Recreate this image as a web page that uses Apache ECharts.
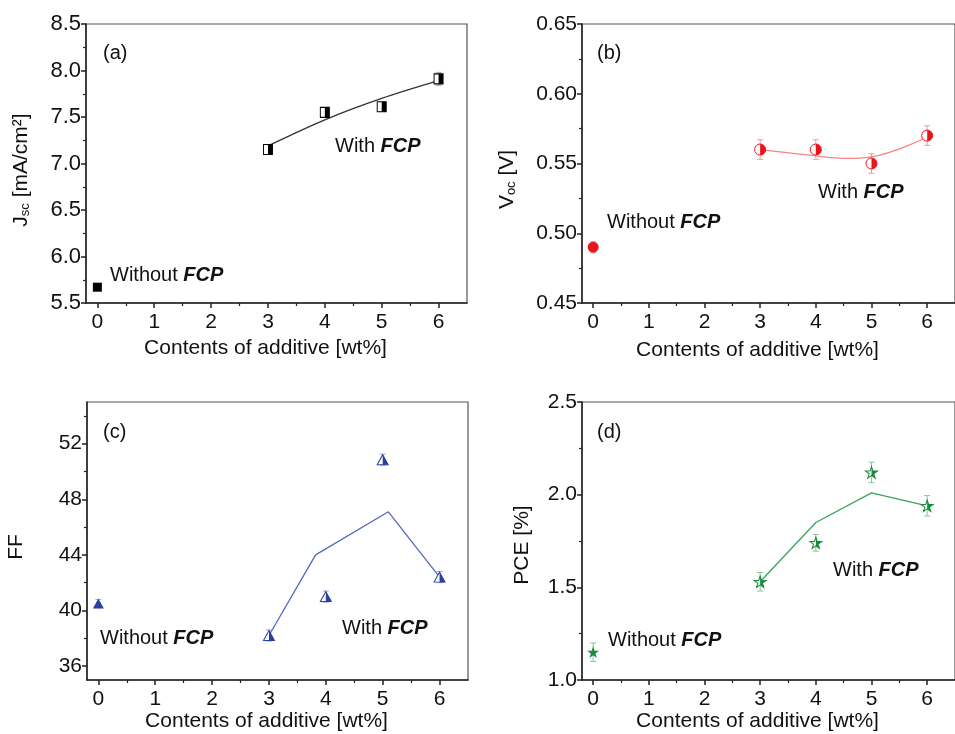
<!DOCTYPE html>
<html>
<head>
<meta charset="utf-8">
<title>FCP additive</title>
<script src="https://cdn.jsdelivr.net/npm/echarts@6/dist/echarts.min.js"></script>
</head>
<body style="margin:0;background:#fff">
<div id="main" style="width:955px;height:734px"></div>
<script type="text/javascript">
// x ticks (wt%)
var contentTicks = [0, 1, 2, 3, 4, 5, 6];
var contentMinor = [0.5, 1.5, 2.5, 3.5, 4.5, 5.5];
var withX = [3, 4, 5, 6];
var withoutX = [0];

// (a) Jsc
var jscWith = [7.15, 7.55, 7.61, 7.91];
var jscErr = [0.04, 0.05, 0.05, 0.07];
var jscWithout = [5.67];
var jscWithoutErr = [0.02];
var jscFitX = [3, 4, 5, 6];
var jscFitY = [7.19, 7.47, 7.70, 7.89];

// (b) Voc
var vocWith = [0.56, 0.56, 0.55, 0.57];
var vocErr = [0.007, 0.007, 0.007, 0.007];
var vocWithout = [0.49];
var vocWithoutErr = [0.004];
var vocFitX = [3, 4, 4.5, 5, 6];
var vocFitY = [0.560, 0.5555, 0.5537, 0.5548, 0.569];

// (c) FF
var ffWith = [38.2, 41.0, 50.85, 42.4];
var ffErr = [0.4, 0.4, 0.4, 0.4];
var ffWithout = [40.5];
var ffWithoutErr = [0.3];
var ffLineX = [3, 3.82, 5.1, 6];
var ffLineY = [38.2, 44.0, 47.1, 42.4];
var ffTicks = [36, 40, 44, 48, 52];
var ffMinor = [38, 42, 46, 50, 54];

// (d) PCE
var pceWith = [1.53, 1.74, 2.12, 1.94];
var pceErr = [0.05, 0.045, 0.055, 0.055];
var pceWithout = [1.15];
var pceWithoutErr = [0.05];
var pceLineX = [3, 4, 5, 6];
var pceLineY = [1.53, 1.85, 2.01, 1.94];

var FONT = 'Liberation Sans';
var INK = '#111';

var STAR = 'path://M0,-10L2.245,-3.09L9.511,-3.09L3.633,1.18L5.878,8.09L0,3.82L-5.878,8.09L-3.633,1.18L-9.511,-3.09L-2.245,-3.09Z';
var HALF_STAR = 'path://M0,-10L2.245,-3.09L9.511,-3.09L3.633,1.18L5.878,8.09L0,3.82Z';
var HALF_CIRCLE = 'path://M0,0A10,10 0 0 1 0,20Z';
var HALF_TRI = 'path://M0,0L10,20L0,20Z';

function zip() {
    var cols = arguments, out = [];
    for (var i = 0; i < cols[0].length; i++) {
        var row = [];
        for (var j = 0; j < cols.length; j++) row.push(cols[j][i]);
        out.push(row);
    }
    return out;
}

function xMain(i, gap) {
    return {
        type: 'value', gridIndex: i, min: -0.2, max: 6.5,
        name: 'Contents of additive [wt%]', nameLocation: 'middle', nameGap: gap,
        nameTextStyle: {fontFamily: FONT, fontSize: 21, color: INK, padding: [0, 22, 0, 0]},
        axisLine: {onZero: false, lineStyle: {color: '#222', width: 1.5}},
        axisTick: {customValues: contentTicks, length: 5, lineStyle: {color: '#222', width: 1.5}},
        axisLabel: {customValues: contentTicks, fontFamily: FONT, fontSize: 21, color: INK, margin: 9},
        splitLine: {show: false}
    };
}
function xMinor(i) {
    return {
        type: 'value', gridIndex: i, min: -0.2, max: 6.5, position: 'bottom',
        axisLine: {show: false, onZero: false}, axisLabel: {show: false}, splitLine: {show: false},
        axisTick: {customValues: contentMinor, length: 3, lineStyle: {color: '#222', width: 1.2}}
    };
}
function yAxis(i, o) {
    var ax = {
        type: 'value', gridIndex: i, min: o.min, max: o.max,
        name: o.name, nameLocation: 'middle', nameGap: o.gap,
        nameTextStyle: {
            fontFamily: FONT, fontSize: 21, color: INK, padding: [0, o.shift, 0, 0],
            rich: {s: {fontFamily: FONT, fontSize: 13, color: INK, verticalAlign: 'bottom', padding: [9, 0, 0, 0]}}
        },
        axisLine: {show: true, onZero: false, lineStyle: {color: '#222', width: 1.5}},
        axisTick: {length: 5, lineStyle: {color: '#222', width: 1.5}},
        minorTick: {show: true, splitNumber: 2, length: 3, lineStyle: {color: '#222', width: 1.2}},
        axisLabel: {fontFamily: FONT, fontSize: o.labelSize || 21, color: INK, margin: 5, formatter: o.fmt},
        splitLine: {show: false}, minorSplitLine: {show: false}
    };
    if (o.interval) ax.interval = o.interval;
    if (o.ticks) {
        ax.axisLabel.customValues = o.ticks;
        ax.axisTick.customValues = o.ticks;
        ax.minorTick.show = false;
    }
    return ax;
}

function errorBars(i, data, color) {
    return {
        type: 'custom', xAxisIndex: i, yAxisIndex: i, data: data, z: 2, silent: true,
        renderItem: function (params, api) {
            var x = api.value(0), y = api.value(1), e = api.value(2);
            var t = api.coord([x, y + e]), b = api.coord([x, y - e]);
            var st = {stroke: color, lineWidth: 1};
            return {type: 'group', children: [
                {type: 'line', shape: {x1: t[0], y1: t[1], x2: b[0], y2: b[1]}, style: st},
                {type: 'line', shape: {x1: t[0] - 3, y1: t[1], x2: t[0] + 3, y2: t[1]}, style: st},
                {type: 'line', shape: {x1: b[0] - 3, y1: b[1], x2: b[0] + 3, y2: b[1]}, style: st}
            ]};
        }
    };
}
function fitLine(i, data, color, smooth) {
    return {type: 'line', xAxisIndex: i, yAxisIndex: i, data: data, smooth: smooth, showSymbol: false,
        lineStyle: {color: color, width: 1.3}, z: 3, silent: true};
}
function halfMarkers(i, data, color, full, half, size) {
    return [
        {type: 'scatter', xAxisIndex: i, yAxisIndex: i, data: data, symbol: full, symbolSize: size, z: 4,
            itemStyle: {color: '#fff', borderColor: color, borderWidth: 1, opacity: 1}},
        {type: 'scatter', xAxisIndex: i, yAxisIndex: i, data: data, symbol: half,
            symbolSize: [size[0] / 2, size[1]], symbolOffset: [size[0] / 4, 0], z: 5,
            itemStyle: {color: color, opacity: 1}}
    ];
}
function fullMarker(i, data, color, symbol, size) {
    return {type: 'scatter', xAxisIndex: i, yAxisIndex: i, data: data, symbol: symbol, symbolSize: size, z: 5,
        itemStyle: {color: color, opacity: 1}};
}

function label(text, x, y) {
    return {type: 'text', x: x, y: y, z: 100, style: {
        text: text, fill: INK, fontFamily: FONT, fontSize: 20, verticalAlign: 'middle',
        rich: {b: {fontFamily: FONT, fontSize: 20, fontStyle: 'italic', fontWeight: 'bold', fill: INK}}
    }};
}

var red = '#e8161c', blue = '#2b3f9e', green = '#178a3c';

var series = [].concat(
    errorBars(0, zip(withX, jscWith, jscErr).concat(zip(withoutX, jscWithout, jscWithoutErr)), '#a8a8a8'),
    fitLine(0, zip(jscFitX, jscFitY), '#333', 0.3),
    halfMarkers(0, zip(withX, jscWith), '#000', 'rect', 'rect', [9, 10]),
    fullMarker(0, zip(withoutX, jscWithout), '#000', 'rect', [9, 9]),

    errorBars(1, zip(withX, vocWith, vocErr).concat(zip(withoutX, vocWithout, vocWithoutErr)), '#f39a9a'),
    fitLine(1, zip(vocFitX, vocFitY), '#f58585', 0.4),
    halfMarkers(1, zip(withX, vocWith), red, 'circle', HALF_CIRCLE, [11, 11]),
    fullMarker(1, zip(withoutX, vocWithout), red, 'circle', 11),

    errorBars(2, zip(withX, ffWith, ffErr).concat(zip(withoutX, ffWithout, ffWithoutErr)), '#9aa6dc'),
    fitLine(2, zip(ffLineX, ffLineY), '#5568c2', false),
    halfMarkers(2, zip(withX, ffWith), blue, 'triangle', HALF_TRI, [11, 10]),
    fullMarker(2, zip(withoutX, ffWithout), blue, 'triangle', [11, 10]),

    errorBars(3, zip(withX, pceWith, pceErr).concat(zip(withoutX, pceWithout, pceWithoutErr)), '#86c79a'),
    fitLine(3, zip(pceLineX, pceLineY), '#3aa35a', false),
    halfMarkers(3, zip(withX, pceWith), green, STAR, HALF_STAR, [12, 11.4]),
    fullMarker(3, zip(withoutX, pceWithout), green, STAR, [12, 11.4])
);

var gridStyle = {show: true, borderColor: '#555', borderWidth: 1.2, backgroundColor: '#fff'};
var option = {
    animation: false,
    backgroundColor: '#fff',
    grid: [
        Object.assign({left: 86, top: 24, width: 381, height: 279}, gridStyle),
        Object.assign({left: 582, top: 24, width: 378, height: 279}, gridStyle),
        Object.assign({left: 87, top: 402, width: 381, height: 278}, gridStyle),
        Object.assign({left: 582, top: 402, width: 378, height: 278}, gridStyle)
    ],
    xAxis: [xMain(0, 35), xMain(1, 37), xMain(2, 23), xMain(3, 31),
        xMinor(0), xMinor(1), xMinor(2), xMinor(3)],
    yAxis: [
        yAxis(0, {min: 5.5, max: 8.5, interval: 0.5, name: 'J{s|sc} [mA/cm\u00b2]', gap: 54, shift: 13,
            labelSize: 22, fmt: function (v) { return v.toFixed(1); }}),
        yAxis(1, {min: 0.45, max: 0.65, interval: 0.05, name: 'V{s|oc} [V]', gap: 64, shift: 32,
            fmt: function (v) { return v.toFixed(2); }}),
        yAxis(2, {min: 35, max: 55, ticks: ffTicks, name: 'FF', gap: 60, shift: 12,
            fmt: function (v) { return String(v); }}),
        yAxis(3, {min: 1.0, max: 2.5, interval: 0.5, name: 'PCE [%]', gap: 49, shift: 8,
            fmt: function (v) { return v.toFixed(1); }}),
        {type: 'value', gridIndex: 2, min: 35, max: 55, position: 'left',
            axisLine: {show: false, onZero: false}, axisLabel: {show: false}, splitLine: {show: false},
            axisTick: {customValues: ffMinor, length: 3, lineStyle: {color: '#222', width: 1.2}}}
    ],
    graphic: [
        label('(a)', 103, 53), label('Without {b|FCP}', 110, 275), label('With {b|FCP}', 335, 146),
        label('(b)', 597, 53), label('Without {b|FCP}', 607, 222), label('With {b|FCP}', 818, 192),
        label('(c)', 103, 432), label('Without {b|FCP}', 100, 638), label('With {b|FCP}', 342, 628),
        label('(d)', 597, 432), label('Without {b|FCP}', 608, 640), label('With {b|FCP}', 833, 570)
    ],
    series: series
};

var myChart = echarts.init(document.getElementById('main'));
myChart.setOption(option);
</script>
</body>
</html>
